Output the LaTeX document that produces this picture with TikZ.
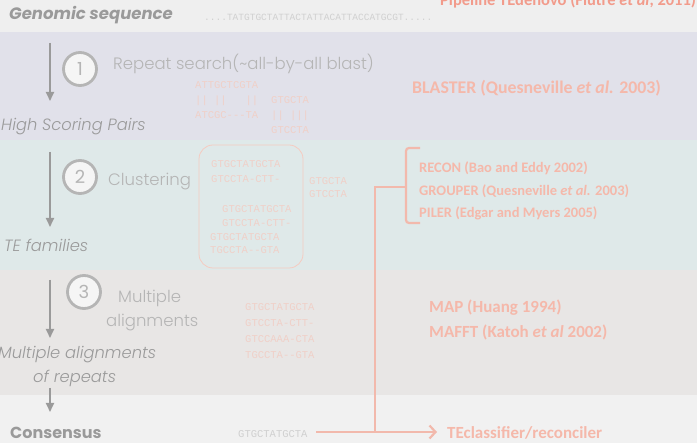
\documentclass[tikz,border=0pt]{standalone}
\usepackage{fontspec}
\setmainfont{Poppins}
\IfFontExistsTF{Poppins Light}{\newfontfamily\lightfont{Poppins Light}}{\newfontfamily\lightfont{Poppins}}
\newfontfamily\calfont{Carlito}
\newfontfamily\seqfont{Liberation Mono}
\usetikzlibrary{arrows.meta}
\definecolor{bgtop}{HTML}{EFEFEF}
\definecolor{bgone}{HTML}{E1E1EA}
\definecolor{bgtwo}{HTML}{DFE9E9}
\definecolor{bgthree}{HTML}{E8E6E5}
\definecolor{bgbot}{HTML}{F1F1F1}
\definecolor{txtgray}{HTML}{9A9A9A}
\definecolor{ltgray}{HTML}{B5B5B5}
\definecolor{seqgray}{HTML}{D0D0D0}
\definecolor{redt}{HTML}{F5B8AA}
\definecolor{titlered}{HTML}{F29B8B}
\definecolor{seqred}{HTML}{F0D0C8}
\definecolor{lined}{HTML}{F2B9AC}
\tikzset{
  lbl/.style={anchor=west,inner sep=0pt,text=txtgray,font=\lightfont\itshape\fontsize{16.3}{18}\selectfont},
  stepname/.style={anchor=west,inner sep=0pt,text=ltgray,font=\lightfont\fontsize{16.5}{20}\selectfont},
  tool/.style={anchor=west,inner sep=0pt,text=redt,font=\calfont\bfseries\fontsize{17}{20}\selectfont},
  smalltool/.style={tool,font=\calfont\bfseries\fontsize{14.5}{18}\selectfont},
  seq/.style={anchor=base west,inner sep=0pt,text=seqred,font=\seqfont\fontsize{10.5}{12}\selectfont},
  stepcirc/.style={circle,draw=ltgray,line width=2.8pt,fill=black!4,minimum size=33pt,inner sep=0pt,text=ltgray,font=\fontsize{18}{18}\selectfont},
  flow/.style={draw=txtgray,line width=1.8pt,-{Triangle[length=9pt,width=8pt]}},
  redline/.style={draw=lined,line width=2.2pt},
}
\begin{document}
\begin{tikzpicture}[x=1pt,y=-1pt]
\useasboundingbox (0,0) rectangle (697,443);
\fill[bgtop] (0,0) rectangle (697,32);
\fill[bgone] (0,32) rectangle (697,140);
\fill[bgtwo] (0,140) rectangle (697,270);
\fill[bgthree] (0,270) rectangle (697,395);
\fill[bgbot] (0,395) rectangle (697,443);
% title, cut by the top edge
\node[anchor=base west,inner sep=0pt,text=titlered,font=\calfont\bfseries\fontsize{16.5}{17}\selectfont] (title) at (440,5.5) {Pipeline TEdenovo  (Flutre \textit{et al}, 2011)};
% top row
\node[anchor=west,inner sep=0pt,text=txtgray,font=\bfseries\itshape\fontsize{16.5}{18}\selectfont] (genomic) at (9,15) {Genomic sequence};
\node[anchor=west,inner sep=0pt,text=seqgray,font=\seqfont\fontsize{9.5}{10}\selectfont] (gseq) at (204,17) {....TATGTGCTATTACTATTACATTACCATGCGT.....};
% step 1
\coordinate (a1s) at (50,43);
\coordinate (a1e) at (50,101);
\draw[flow] (a1s) -- (a1e);
\node[stepcirc] (c1) at (80,69) {1};
\node[stepname] (s1) at (113,64) {Repeat search(\char`\~all-by-all blast)};
\foreach \t [count=\i, evaluate=\i as \yy using 89+14.8*(\i-1)] in {ATTGCTCGTA,||~||~~~||,ATCGC-{}-{}-TA}
  \node[seq] (hspa\i) at (195,\yy) {\t};
\foreach \t [count=\i, evaluate=\i as \yy using 104+15*(\i-1)] in {GTGCTA,||~|||,GTCCTA}
  \node[seq] (hspb\i) at (271,\yy) {\t};
\node[lbl] (hsp) at (1,127) {High Scoring Pairs};
\node[tool,font=\calfont\bfseries\fontsize{17.8}{20}\selectfont] (blaster) at (412,88) {BLASTER (Quesneville \textit{et al.} 2003)};
% step 2
\coordinate (a2s) at (50,152);
\coordinate (a2e) at (50,227);
\draw[flow] (a2s) -- (a2e);
\node[stepcirc] (c2) at (80,177) {2};
\node[stepname] (s2) at (108,182) {Clustering};
\draw[draw=lined!75,line width=0.8pt,rounded corners=14pt] (199,145) rectangle (303,268);
\node[seq] (cla1) at (211,168) {GTGCTATGCTA};
\node[seq] (cla2) at (211,183) {GTCCTA-CTT-};
\node[seq] (clb1) at (222,213) {GTGCTATGCTA};
\node[seq] (clb2) at (222,227) {GTCCTA-CTT-};
\node[seq] (clc1) at (210,241) {GTGCTATGCTA};
\node[seq] (clc2) at (210,254) {TGCCTA-{}-GTA};
\node[seq] (cld1) at (309,185) {GTGCTA};
\node[seq] (cld2) at (309,198) {GTCCTA};
\node[lbl] (tef) at (4,245) {TE families};
\node[smalltool] (recon) at (419,168) {RECON (Bao and Eddy 2002)};
\node[smalltool] (grouper) at (419,191) {GROUPER (Quesneville \textit{et al.} 2003)};
\node[smalltool] (piler) at (419,213) {PILER (Edgar and Myers 2005)};
\coordinate (bt) at (420,148);
\coordinate (bb) at (420,223);
\coordinate (bm) at (406,187);
\draw[redline,rounded corners=3pt] (bt) -- (406,148) -- (406,223) -- (bb);
\coordinate (vtop) at (375,187);
\coordinate (vbot) at (375,432);
\draw[redline] (bm) -- (vtop) -- (vbot);
% step 3
\coordinate (a3s) at (50,280);
\coordinate (a3e) at (50,338);
\draw[flow] (a3s) -- (a3e);
\node[stepcirc] (c3) at (84,292) {3};
\node[stepname] (s3) at (118,298) {Multiple};
\node[stepname] (s3b) at (106,323) {alignments};
\foreach \t [count=\i, evaluate=\i as \yy using 311+15.7*(\i-1)] in {GTGCTATGCTA,GTCCTA-CTT-,GTCCAAA-CTA,TGCCTA-{}-GTA}
  \node[seq] (mal\i) at (245,\yy) {\t};
\node[lbl] (mar) at (-2,355) {Multiple alignments};
\node[lbl] (mar2) at (33,378) {of repeats};
\node[tool] (map) at (429,308) {MAP (Huang 1994)};
\node[tool] (mafft) at (429,332) {MAFFT (Katoh \textit{et al} 2002)};
% consensus
\coordinate (a4s) at (50,388);
\coordinate (a4e) at (50,412);
\draw[flow] (a4s) -- (a4e);
\node[anchor=west,inner sep=0pt,text=txtgray,font=\bfseries\fontsize{16}{18}\selectfont] (cons) at (10,433) {Consensus};
\node[seq,text=seqgray] (cseq) at (238,438) {GTGCTATGCTA};
\node[tool] (tec) at (447,433) {TEclassifier/reconciler};
\coordinate (arrs) at (316,432);
\coordinate (arre) at (437,432);
\draw[redline,-{Straight Barb[length=6pt,width=13pt,line width=2.2pt]}] (arrs) -- (arre);
\end{tikzpicture}
\end{document}
